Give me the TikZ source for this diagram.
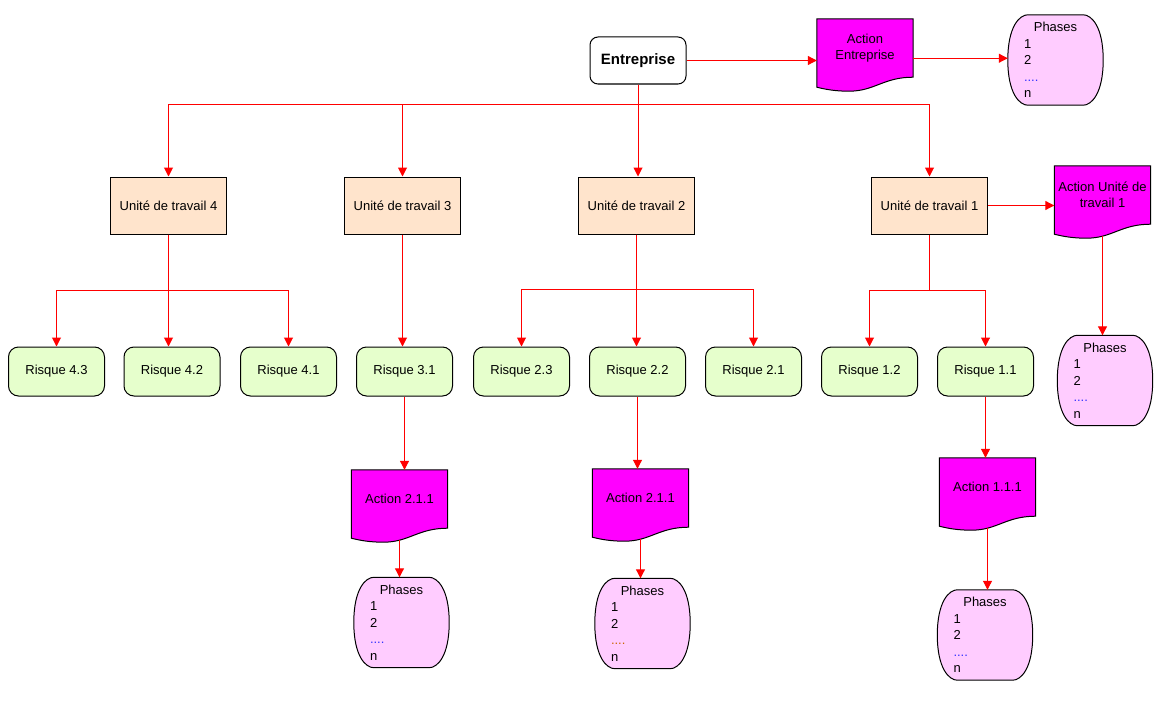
\documentclass[tikz,border=0pt]{standalone}
\usepackage{fontspec}
\setmainfont{Liberation Sans}
\usepackage{tikz}
\usetikzlibrary{arrows.meta,backgrounds,calc}

\definecolor{UnitFill}{RGB}{255,228,204}
\definecolor{RiskFill}{RGB}{230,255,204}
\definecolor{ActFill}{RGB}{255,0,255}
\definecolor{PhaseFill}{RGB}{255,204,255}
\definecolor{LinkRed}{RGB}{255,0,0}
\definecolor{DotBlue}{RGB}{51,51,255}
\definecolor{DotOrange}{RGB}{204,102,0}

\newcommand{\PhaseList}[1]{\makebox[63pt]{Phases}\\1\\2\\{\color{#1}....}\\n}

\begin{document}
\begin{tikzpicture}[x=1pt, y=-1pt, font=\fontsize{13}{16.5}\selectfont,
	EntStyle/.style = {shape=rectangle, rounded corners=8pt, draw, line width=1pt, fill=white, minimum width=96pt, minimum height=47pt, font=\fontsize{15}{18}\selectfont\bfseries},
	UnitStyle/.style = {shape=rectangle, draw, line width=1pt, fill=UnitFill, minimum width=116pt, minimum height=57pt},
	RiskStyle/.style = {shape=rectangle, rounded corners=10pt, draw, line width=1pt, fill=RiskFill, minimum width=96pt, minimum height=49pt},
	ActionStyle/.style = {shape=rectangle, align=center, minimum width=96pt, minimum height=58pt, inner sep=2pt},
	PhaseStyle/.style = {shape=rectangle, text width=63pt, align=left, minimum width=95pt, minimum height=90pt, inner sep=0pt},
	DocShape/.style = {draw, line width=1pt, fill=ActFill},
	BarrelShape/.style = {draw, line width=1pt, fill=PhaseFill},
	LinkStyle/.style = {draw=LinkRed, line width=1pt, -{Triangle[length=9pt,width=9pt]}}]
	\useasboundingbox (0,0) rectangle (1170,701);

	\node[EntStyle] (ent) at (638,60.5) {Entreprise};
	\node[ActionStyle] (actE) at (865,48) {Action\\Entreprise};
	\node[PhaseStyle] (phE) at (1055.5,60) {\PhaseList{DotBlue}};

	\node[UnitStyle] (u4) at (168.5,205.5) {Unité de travail 4};
	\node[UnitStyle] (u3) at (402.5,205.5) {Unité de travail 3};
	\node[UnitStyle] (u2) at (636.5,205.5) {Unité de travail 2};
	\node[UnitStyle] (u1) at (929.5,205.5) {Unité de travail 1};
	\node[ActionStyle] (actU1) at (1102.5,195) {Action Unité de\\travail 1};
	\node[PhaseStyle] (phU1) at (1105,380.5) {\PhaseList{DotBlue}};

	\node[RiskStyle] (r43) at (56.5,371.5) {Risque 4.3};
	\node[RiskStyle] (r42) at (172,371.5) {Risque 4.2};
	\node[RiskStyle] (r41) at (288.5,371.5) {Risque 4.1};
	\node[RiskStyle] (r31) at (404.5,371.5) {Risque 3.1};
	\node[RiskStyle] (r23) at (521.5,371.5) {Risque 2.3};
	\node[RiskStyle] (r22) at (637.5,371.5) {Risque 2.2};
	\node[RiskStyle] (r21) at (753.5,371.5) {Risque 2.1};
	\node[RiskStyle] (r12) at (869.5,371.5) {Risque 1.2};
	\node[RiskStyle] (r11) at (985.5,371.5) {Risque 1.1};

	\node[ActionStyle] (act3) at (399.5,499) {Action 2.1.1};
	\node[PhaseStyle] (ph3) at (401.5,622.5) {\PhaseList{DotBlue}};
	\node[ActionStyle] (act2) at (640.5,498) {Action 2.1.1};
	\node[PhaseStyle] (ph2) at (642.5,623.5) {\PhaseList{DotOrange}};
	\node[ActionStyle] (act1) at (987.5,487) {Action 1.1.1};
	\node[PhaseStyle] (ph1) at (985,635) {\PhaseList{DotBlue}};

	% outlines of the documents and the phase lists
	\begin{scope}[on background layer]
		\foreach \n in {actE,actU1,act3,act2,act1}
			\draw[DocShape] (\n.north west) -- (\n.north east) -- (\n.south east)
				.. controls +(-30,0) and +(26,0) .. ($(\n.south west)+(32,14)$)
				.. controls +(-14,0) and +(8,2) .. ($(\n.south west)+(0,10)$) -- cycle;
		\foreach \n in {phE,phU1,ph3,ph2,ph1}
			\draw[BarrelShape] ($(\n.north west)+(20,0)$) -- ($(\n.north east)+(-20,0)$)
				.. controls +(8,0) and +(0,-34) .. (\n.east)
				.. controls +(0,34) and +(8,0) .. ($(\n.south east)+(-20,0)$)
				-- ($(\n.south west)+(20,0)$)
				.. controls +(-8,0) and +(0,34) .. (\n.west)
				.. controls +(0,-34) and +(-8,0) .. ($(\n.north west)+(20,0)$) -- cycle;
	\end{scope}

	\path[every edge/.style=LinkStyle]
		(ent.east) edge (ent.east -| actE.west)
		(actE.-12) edge (actE.-12 -| phE.west)
		(ent.south) edge (ent.south |- u2.north)
		(u1.east) edge (u1.east -| actU1.west)
		(actU1.south) edge[shorten <=12pt] (actU1.south |- phU1.north)
		(u4.south) edge (u4.south |- r42.north)
		(u3.south) edge (u3.south |- r31.north)
		(u2.south) edge (u2.south |- r22.north)
		(r31.south) edge (r31.south |- act3.north)
		(act3.south) edge[shorten <=12pt] (act3.south |- ph3.north)
		(r22.south) edge (r22.south |- act2.north)
		(act2.south) edge[shorten <=12pt] (act2.south |- ph2.north)
		(r11.south) edge (r11.south |- act1.north)
		(act1.south) edge[shorten <=12pt] (act1.south |- ph1.north)
	;

	\draw[LinkStyle] (ent.south) -- ++(0,20) -| (u4.north);
	\draw[LinkStyle] (ent.south) -- ++(0,20) -| (u3.north);
	\draw[LinkStyle] (ent.south) -- ++(0,20) -| (u1.north);
	\draw[LinkStyle] (u4.south) -- ++(0,56) -| (r43.north);
	\draw[LinkStyle] (u4.south) -- ++(0,56) -| (r41.north);
	\draw[LinkStyle] (u2.south) -- ++(0,54.5) -| (r23.north);
	\draw[LinkStyle] (u2.south) -- ++(0,54.5) -| (r21.north);
	\draw[LinkStyle] (u1.south) -- ++(0,56) -| (r12.north);
	\draw[LinkStyle] (u1.south) -- ++(0,56) -| (r11.north);
\end{tikzpicture}
\end{document}
